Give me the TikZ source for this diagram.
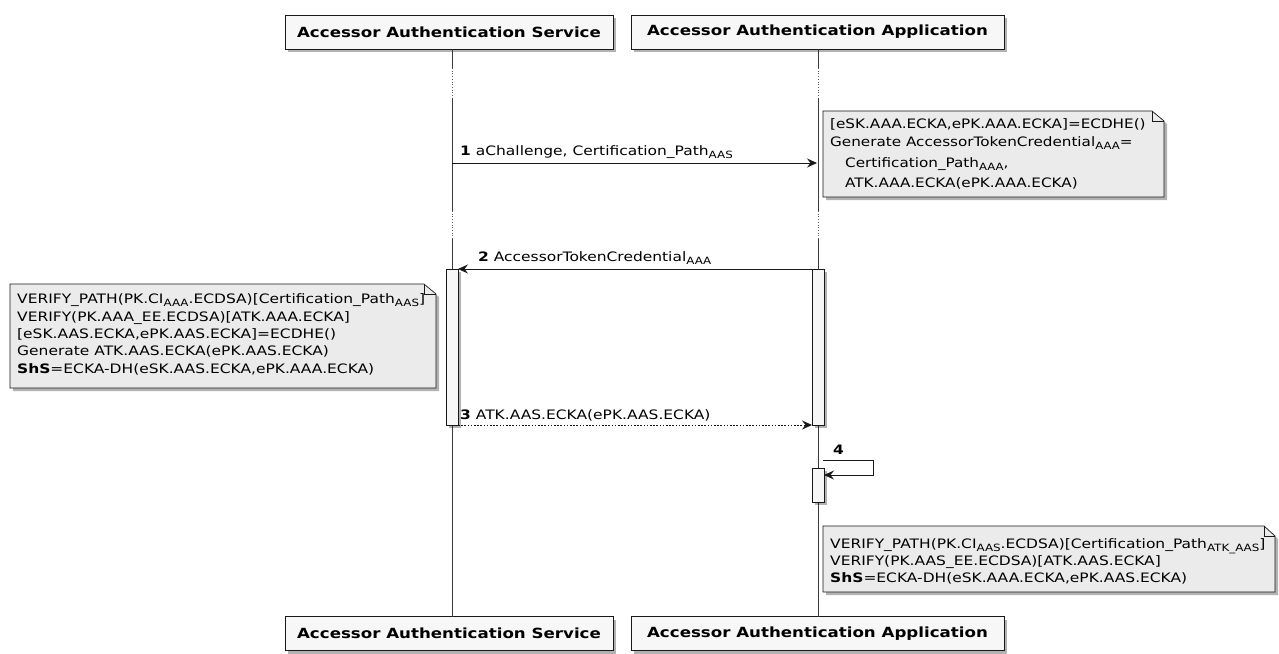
\documentclass[tikz,border=0pt]{standalone}
\usepackage{fontspec}
\usepackage{graphicx}
\setmainfont{DejaVu Sans}
\usetikzlibrary{arrows.meta,shadows}
\newcommand\lowsub[1]{\raisebox{-3pt}{\fontsize{10}{10}\selectfont #1}}
\newcommand\widetxt[1]{\scalebox{1.19}[1]{#1}}
\newcommand\widetxtb[1]{\scalebox{1.17}[1]{#1}}
\definecolor{ink}{HTML}{181818}
\definecolor{partfill}{HTML}{F7F7F7}
\definecolor{notefill}{HTML}{EBEBEB}
\definecolor{actfill}{HTML}{F7F7F7}
\begin{document}
\begin{tikzpicture}[x=1pt,y=-1pt,
  font=\fontsize{13}{16}\selectfont,
  shd/.style={drop shadow={shadow xshift=3pt,shadow yshift=-3pt,opacity=0.3,fill=black}},
  part/.style={draw=ink, fill=partfill, line width=0.9pt, minimum height=34pt, inner sep=0pt,
     font=\fontsize{14}{16}\selectfont\bfseries, shd},
  life/.style={draw=ink!85, line width=0.7pt},
  lifedot/.style={draw=ink!70, line width=0.7pt, dotted},
  act/.style={draw=ink, fill=actfill, line width=0.8pt, inner sep=0pt, minimum width=12pt, shd},
  msg/.style={draw=ink, line width=0.8pt, -{Stealth[length=10pt,width=9pt,inset=3.5pt]}},
  retmsg/.style={msg, dash pattern=on 1.6pt off 1.6pt},
  notebox/.style={draw=ink, fill=notefill, line width=0.7pt, shd},
  txt/.style={anchor=base west, inner sep=0pt},
]
\useasboundingbox (0,0) rectangle (1279,653);

% participants
\node[part, minimum width=328pt] (aasT) at (449,32) {\widetxt{Accessor Authentication Service}};
\node[part, minimum width=373pt] (aaaT) at (817.5,32) {\widetxt{Accessor Authentication Application}};
\node[part, minimum width=328pt] (aasB) at (449,633.5) {\widetxt{Accessor Authentication Service}};
\node[part, minimum width=373pt] (aaaB) at (817.5,633.5) {\widetxt{Accessor Authentication Application}};

% lifelines
\coordinate (L0) at (452,49);  \coordinate (R0) at (818,49);
\coordinate (L1) at (452,68);  \coordinate (R1) at (818,68);
\coordinate (L2) at (452,98);  \coordinate (R2) at (818,98);
\coordinate (L3) at (452,211); \coordinate (R3) at (818,211);
\coordinate (L4) at (452,239); \coordinate (R4) at (818,239);
\coordinate (L5) at (452,617); \coordinate (R5) at (818,617);
\draw[life] (L0) -- (L1); \draw[lifedot] (L1) -- (L2); \draw[life] (L2) -- (L3);
\draw[lifedot] (L3) -- (L4); \draw[life] (L4) -- (L5);
\draw[life] (R0) -- (R1); \draw[lifedot] (R1) -- (R2); \draw[life] (R2) -- (R3);
\draw[lifedot] (R3) -- (R4); \draw[life] (R4) -- (R5);

% activations
\node[act, minimum height=156pt] (actL) at (452,347) {};
\node[act, minimum height=156pt] (actR) at (818,347) {};
\node[act, minimum height=34pt] (actR2) at (818,485) {};

% note 1
\draw[notebox] (823,111) -- (1152,111) -- (1164,121) -- (1164,197) -- (823,197) -- cycle;
\draw[draw=ink, line width=0.7pt] (1152,111) -- (1152,121) -- (1164,121);
\node[txt] (n1a) at (830,128) {\widetxtb{[eSK.AAA.ECKA,ePK.AAA.ECKA]=ECDHE()}};
\node[txt] (n1b) at (830,146) {\widetxtb{Generate AccessorTokenCredential\lowsub{AAA}=}};
\node[txt] (n1c) at (845,167) {\widetxtb{Certification\_Path\lowsub{AAA},}};
\node[txt] (n1d) at (845,187) {\widetxtb{ATK.AAA.ECKA(ePK.AAA.ECKA)}};

% message 1
\coordinate (m1s) at (452,163); \coordinate (m1e) at (817,163);
\draw[msg] (m1s) -- (m1e);
\node[txt] (l1) at (460,155) {\widetxt{\textbf{1} aChallenge, Certification\_Path\lowsub{AAS}}};

% message 2
\coordinate (m2s) at (812,269); \coordinate (m2e) at (458,269);
\draw[msg] (m2s) -- (m2e);
\node[txt] (l2) at (478,261) {\widetxt{\textbf{2} AccessorTokenCredential\lowsub{AAA}}};

% note 2
\draw[notebox] (10,284) -- (424,284) -- (436,294) -- (436,388) -- (10,388) -- cycle;
\draw[draw=ink, line width=0.7pt] (424,284) -- (424,294) -- (436,294);
\node[txt] (n2a) at (17,303) {\widetxt{VERIFY\_PATH(PK.CI\lowsub{AAA}.ECDSA)[Certification\_Path\lowsub{AAS}]}};
\node[txt] (n2b) at (17,321) {\widetxt{VERIFY(PK.AAA\_EE.ECDSA)[ATK.AAA.ECKA]}};
\node[txt] (n2c) at (17,338) {\widetxt{[eSK.AAS.ECKA,ePK.AAS.ECKA]=ECDHE()}};
\node[txt] (n2d) at (17,355) {\widetxt{Generate ATK.AAS.ECKA(ePK.AAS.ECKA)}};
\node[txt] (n2e) at (17,373) {\widetxt{\textbf{ShS}=ECKA-DH(eSK.AAS.ECKA,ePK.AAA.ECKA)}};

% message 3
\coordinate (m3s) at (458,425); \coordinate (m3e) at (812,425);
\draw[retmsg] (m3s) -- (m3e);
\node[txt] (l3) at (460,419) {\widetxt{\textbf{3} ATK.AAS.ECKA(ePK.AAS.ECKA)}};

% message 4 (self)
\coordinate (m4s) at (823,460); \coordinate (m4a) at (873,460);
\coordinate (m4b) at (873,475); \coordinate (m4e) at (824,475);
\draw[msg] (m4s) -- (m4a) -- (m4b) -- (m4e);
\node[txt] (l4) at (833,454) {\widetxt{\textbf{4}}};

% note 3
\draw[notebox] (823,526) -- (1264,526) -- (1275,536) -- (1275,592) -- (823,592) -- cycle;
\draw[draw=ink, line width=0.7pt] (1264,526) -- (1264,536) -- (1275,536);
\node[txt] (n3a) at (830,548) {\widetxt{VERIFY\_PATH(PK.CI\lowsub{AAS}.ECDSA)[Certification\_Path\lowsub{ATK\_AAS}]}};
\node[txt] (n3b) at (830,565) {\widetxt{VERIFY(PK.AAS\_EE.ECDSA)[ATK.AAS.ECKA]}};
\node[txt] (n3c) at (830,582) {\widetxt{\textbf{ShS}=ECKA-DH(eSK.AAA.ECKA,ePK.AAS.ECKA)}};
\end{tikzpicture}
\end{document}
